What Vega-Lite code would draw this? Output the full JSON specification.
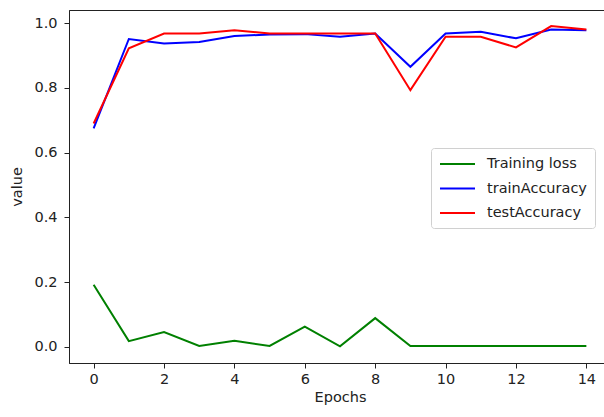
{
  "$schema": "https://vega.github.io/schema/vega-lite/v6.json",
  "width": 542,
  "height": 353,
  "autosize": {"type": "none"},
  "padding": {"left": 69, "top": 10, "right": 0, "bottom": 54},
  "background": "white",
  "config": {
    "view": {"stroke": "#222", "strokeWidth": 1},
    "font": "DejaVu Sans",
    "axis": {
      "domainColor": "#222",
      "tickColor": "#222",
      "labelColor": "#222",
      "titleColor": "#222",
      "labelFontSize": 14.5,
      "titleFontSize": 14.5,
      "titleFontWeight": "normal",
      "tickSize": 5,
      "grid": false,
      "labelFont": "DejaVu Sans",
      "titleFont": "DejaVu Sans"
    }
  },
  "data": {
    "values": [
      {"epoch": 0, "series": "Training loss", "value": 0.192},
      {"epoch": 1, "series": "Training loss", "value": 0.018},
      {"epoch": 2, "series": "Training loss", "value": 0.046},
      {"epoch": 3, "series": "Training loss", "value": 0.003},
      {"epoch": 4, "series": "Training loss", "value": 0.019},
      {"epoch": 5, "series": "Training loss", "value": 0.003},
      {"epoch": 6, "series": "Training loss", "value": 0.063},
      {"epoch": 7, "series": "Training loss", "value": 0.002},
      {"epoch": 8, "series": "Training loss", "value": 0.089},
      {"epoch": 9, "series": "Training loss", "value": 0.003},
      {"epoch": 10, "series": "Training loss", "value": 0.003},
      {"epoch": 11, "series": "Training loss", "value": 0.003},
      {"epoch": 12, "series": "Training loss", "value": 0.003},
      {"epoch": 13, "series": "Training loss", "value": 0.003},
      {"epoch": 14, "series": "Training loss", "value": 0.003},
      {"epoch": 0, "series": "trainAccuracy", "value": 0.675},
      {"epoch": 1, "series": "trainAccuracy", "value": 0.951},
      {"epoch": 2, "series": "trainAccuracy", "value": 0.937},
      {"epoch": 3, "series": "trainAccuracy", "value": 0.942},
      {"epoch": 4, "series": "trainAccuracy", "value": 0.960},
      {"epoch": 5, "series": "trainAccuracy", "value": 0.965},
      {"epoch": 6, "series": "trainAccuracy", "value": 0.966},
      {"epoch": 7, "series": "trainAccuracy", "value": 0.958},
      {"epoch": 8, "series": "trainAccuracy", "value": 0.968},
      {"epoch": 9, "series": "trainAccuracy", "value": 0.865},
      {"epoch": 10, "series": "trainAccuracy", "value": 0.968},
      {"epoch": 11, "series": "trainAccuracy", "value": 0.973},
      {"epoch": 12, "series": "trainAccuracy", "value": 0.953},
      {"epoch": 13, "series": "trainAccuracy", "value": 0.980},
      {"epoch": 14, "series": "trainAccuracy", "value": 0.978},
      {"epoch": 0, "series": "testAccuracy", "value": 0.690},
      {"epoch": 1, "series": "testAccuracy", "value": 0.922},
      {"epoch": 2, "series": "testAccuracy", "value": 0.968},
      {"epoch": 3, "series": "testAccuracy", "value": 0.968},
      {"epoch": 4, "series": "testAccuracy", "value": 0.978},
      {"epoch": 5, "series": "testAccuracy", "value": 0.968},
      {"epoch": 6, "series": "testAccuracy", "value": 0.968},
      {"epoch": 7, "series": "testAccuracy", "value": 0.968},
      {"epoch": 8, "series": "testAccuracy", "value": 0.968},
      {"epoch": 9, "series": "testAccuracy", "value": 0.793},
      {"epoch": 10, "series": "testAccuracy", "value": 0.958},
      {"epoch": 11, "series": "testAccuracy", "value": 0.958},
      {"epoch": 12, "series": "testAccuracy", "value": 0.925},
      {"epoch": 13, "series": "testAccuracy", "value": 0.991},
      {"epoch": 14, "series": "testAccuracy", "value": 0.980}
    ]
  },
  "mark": {"type": "line", "strokeWidth": 2, "clip": true},
  "encoding": {
    "x": {
      "field": "epoch",
      "type": "quantitative",
      "scale": {"domain": [-0.7, 14.7], "nice": false, "zero": false},
      "axis": {"values": [0, 2, 4, 6, 8, 10, 12, 14], "title": "Epochs", "titlePadding": 5, "labelPadding": 4}
    },
    "y": {
      "field": "value",
      "type": "quantitative",
      "scale": {"domain": [-0.0495, 1.0405], "nice": false, "zero": false},
      "axis": {"values": [0, 0.2, 0.4, 0.6, 0.8, 1.0], "format": ".1f", "title": "value", "titlePadding": 9, "labelPadding": 7}
    },
    "color": {
      "field": "series",
      "type": "nominal",
      "sort": ["Training loss", "trainAccuracy", "testAccuracy"],
      "scale": {"domain": ["Training loss", "trainAccuracy", "testAccuracy"], "range": ["#008000", "#0000ff", "#ff0000"]},
      "legend": {
        "title": null,
        "orient": "none",
        "legendX": 362,
        "legendY": 138,
        "symbolType": "M-1,0H4",
        "symbolSize": 196,
        "symbolStrokeWidth": 2,
        "labelFontSize": 14.5,
        "labelFont": "DejaVu Sans",
        "labelColor": "#222",
        "labelExpr": "datum.label + '  '",
        "rowPadding": 9.5,
        "labelOffset": 32,
        "padding": 8,
        "strokeColor": "#d0d0d0",
        "fillColor": "white",
        "cornerRadius": 3
      }
    }
  }
}
